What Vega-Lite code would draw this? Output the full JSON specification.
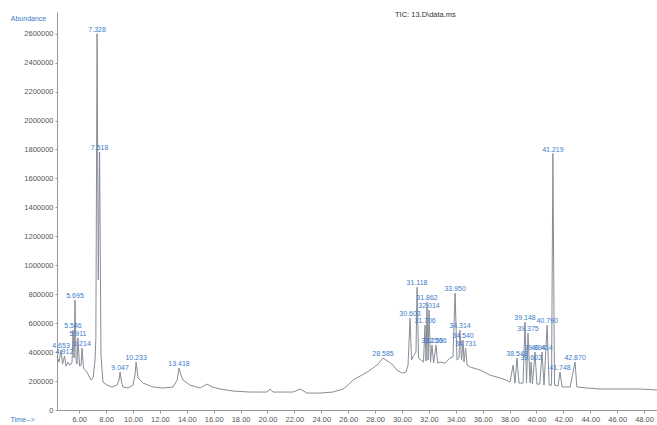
{
  "$schema": "https://vega.github.io/schema/vega-lite/v6.json",
  "width": 600,
  "height": 398,
  "autosize": {"type": "none"},
  "padding": {"left": 57, "top": 12, "right": 0, "bottom": 15},
  "background": "white",
  "config": {"view": {"stroke": null}, "font": "Liberation Sans", "axis": {"labelOverlap": false}},
  "title": {"text": "TIC: 13.D\\data.ms", "anchor": "start", "dx": 338, "offset": -6, "fontSize": 7.5, "fontWeight": "normal", "color": "#333333", "frame": "group"},
  "datasets": {
    "trace": [
      {"t": 4.35, "v": 372000}, {"t": 4.50, "v": 331000}, {"t": 4.65, "v": 414000}, {"t": 4.76, "v": 317000},
      {"t": 4.91, "v": 372000}, {"t": 5.02, "v": 303000}, {"t": 5.17, "v": 331000}, {"t": 5.32, "v": 310000},
      {"t": 5.47, "v": 331000}, {"t": 5.54, "v": 552000}, {"t": 5.62, "v": 359000}, {"t": 5.69, "v": 759000},
      {"t": 5.77, "v": 345000}, {"t": 5.84, "v": 317000}, {"t": 5.91, "v": 497000}, {"t": 6.03, "v": 303000},
      {"t": 6.14, "v": 310000}, {"t": 6.21, "v": 428000}, {"t": 6.32, "v": 290000}, {"t": 6.58, "v": 262000},
      {"t": 6.88, "v": 207000}, {"t": 7.03, "v": 221000}, {"t": 7.18, "v": 345000}, {"t": 7.24, "v": 500000},
      {"t": 7.328, "v": 2600000}, {"t": 7.42, "v": 900000}, {"t": 7.518, "v": 1780000}, {"t": 7.62, "v": 380000},
      {"t": 7.70, "v": 276000}, {"t": 7.77, "v": 193000}, {"t": 8.07, "v": 172000}, {"t": 8.44, "v": 159000},
      {"t": 8.81, "v": 172000}, {"t": 8.96, "v": 207000}, {"t": 9.04, "v": 262000}, {"t": 9.15, "v": 193000},
      {"t": 9.26, "v": 159000}, {"t": 9.63, "v": 152000}, {"t": 10.00, "v": 172000}, {"t": 10.15, "v": 241000},
      {"t": 10.23, "v": 331000}, {"t": 10.38, "v": 221000}, {"t": 10.75, "v": 186000}, {"t": 11.49, "v": 159000},
      {"t": 12.24, "v": 152000}, {"t": 12.98, "v": 159000}, {"t": 13.28, "v": 207000}, {"t": 13.42, "v": 290000},
      {"t": 13.57, "v": 241000}, {"t": 13.72, "v": 207000}, {"t": 14.24, "v": 172000}, {"t": 14.99, "v": 152000},
      {"t": 15.51, "v": 179000}, {"t": 15.88, "v": 159000}, {"t": 16.47, "v": 145000}, {"t": 17.44, "v": 131000},
      {"t": 18.70, "v": 124000}, {"t": 19.97, "v": 124000}, {"t": 20.19, "v": 145000}, {"t": 20.41, "v": 124000},
      {"t": 21.90, "v": 124000}, {"t": 22.42, "v": 145000}, {"t": 22.94, "v": 117000}, {"t": 23.91, "v": 117000},
      {"t": 24.87, "v": 124000}, {"t": 25.62, "v": 145000}, {"t": 25.99, "v": 172000}, {"t": 26.36, "v": 207000},
      {"t": 26.88, "v": 234000}, {"t": 27.40, "v": 262000}, {"t": 27.85, "v": 290000}, {"t": 28.22, "v": 317000},
      {"t": 28.59, "v": 359000}, {"t": 28.81, "v": 345000}, {"t": 29.04, "v": 331000}, {"t": 29.26, "v": 317000},
      {"t": 29.63, "v": 276000}, {"t": 30.00, "v": 255000}, {"t": 30.30, "v": 262000}, {"t": 30.45, "v": 310000},
      {"t": 30.60, "v": 634000}, {"t": 30.71, "v": 345000}, {"t": 30.89, "v": 379000}, {"t": 31.04, "v": 400000},
      {"t": 31.12, "v": 848000}, {"t": 31.23, "v": 359000}, {"t": 31.42, "v": 345000}, {"t": 31.60, "v": 331000},
      {"t": 31.71, "v": 586000}, {"t": 31.79, "v": 338000}, {"t": 31.86, "v": 745000}, {"t": 31.94, "v": 345000},
      {"t": 32.01, "v": 690000}, {"t": 32.12, "v": 331000}, {"t": 32.23, "v": 448000}, {"t": 32.35, "v": 324000},
      {"t": 32.53, "v": 448000}, {"t": 32.65, "v": 324000}, {"t": 32.83, "v": 331000}, {"t": 33.20, "v": 324000},
      {"t": 33.57, "v": 359000}, {"t": 33.79, "v": 366000}, {"t": 33.95, "v": 807000}, {"t": 34.09, "v": 345000},
      {"t": 34.24, "v": 359000}, {"t": 34.31, "v": 552000}, {"t": 34.43, "v": 345000}, {"t": 34.54, "v": 483000},
      {"t": 34.61, "v": 331000}, {"t": 34.73, "v": 428000}, {"t": 34.84, "v": 310000}, {"t": 35.07, "v": 297000},
      {"t": 35.81, "v": 276000}, {"t": 36.55, "v": 241000}, {"t": 37.29, "v": 221000}, {"t": 37.74, "v": 207000},
      {"t": 38.03, "v": 193000}, {"t": 38.26, "v": 310000}, {"t": 38.40, "v": 186000}, {"t": 38.55, "v": 359000},
      {"t": 38.70, "v": 186000}, {"t": 39.00, "v": 186000}, {"t": 39.15, "v": 607000}, {"t": 39.26, "v": 186000},
      {"t": 39.37, "v": 531000}, {"t": 39.52, "v": 186000}, {"t": 39.60, "v": 331000}, {"t": 39.70, "v": 179000},
      {"t": 39.89, "v": 400000}, {"t": 40.03, "v": 179000}, {"t": 40.25, "v": 179000}, {"t": 40.41, "v": 400000},
      {"t": 40.56, "v": 172000}, {"t": 40.79, "v": 586000}, {"t": 40.94, "v": 172000}, {"t": 41.12, "v": 172000},
      {"t": 41.219, "v": 1772000}, {"t": 41.34, "v": 172000}, {"t": 41.60, "v": 166000}, {"t": 41.75, "v": 262000},
      {"t": 41.90, "v": 159000}, {"t": 42.50, "v": 159000}, {"t": 42.87, "v": 331000}, {"t": 43.00, "v": 159000},
      {"t": 43.76, "v": 152000}, {"t": 44.73, "v": 145000}, {"t": 46.21, "v": 145000}, {"t": 47.70, "v": 145000},
      {"t": 48.96, "v": 138000}
    ],
    "peaks": [
      {"t": 4.65, "v": 414000, "label": "4.653"},
      {"t": 4.91, "v": 372000, "label": "4.912"},
      {"t": 5.54, "v": 552000, "label": "5.546"},
      {"t": 5.69, "v": 759000, "label": "5.695"},
      {"t": 5.91, "v": 497000, "label": "5.911"},
      {"t": 6.21, "v": 428000, "label": "6.214"},
      {"t": 7.328, "v": 2600000, "label": "7.328"},
      {"t": 7.518, "v": 1780000, "label": "7.518"},
      {"t": 9.04, "v": 262000, "label": "9.047"},
      {"t": 10.23, "v": 331000, "label": "10.233"},
      {"t": 13.42, "v": 290000, "label": "13.418"},
      {"t": 28.59, "v": 359000, "label": "28.585"},
      {"t": 30.60, "v": 634000, "label": "30.603"},
      {"t": 31.12, "v": 848000, "label": "31.118"},
      {"t": 31.71, "v": 586000, "label": "31.706"},
      {"t": 31.86, "v": 745000, "label": "31.862"},
      {"t": 32.01, "v": 690000, "label": "32.014"},
      {"t": 32.23, "v": 448000, "label": "32.226"},
      {"t": 32.53, "v": 448000, "label": "32.536"},
      {"t": 33.95, "v": 807000, "label": "33.950"},
      {"t": 34.31, "v": 552000, "label": "34.314"},
      {"t": 34.54, "v": 483000, "label": "34.540"},
      {"t": 34.73, "v": 428000, "label": "34.731"},
      {"t": 38.55, "v": 359000, "label": "38.548"},
      {"t": 39.15, "v": 607000, "label": "39.148"},
      {"t": 39.37, "v": 531000, "label": "39.375"},
      {"t": 39.60, "v": 331000, "label": "39.602"},
      {"t": 39.89, "v": 400000, "label": "39.894"},
      {"t": 40.41, "v": 400000, "label": "40.414"},
      {"t": 40.79, "v": 586000, "label": "40.790"},
      {"t": 41.219, "v": 1772000, "label": "41.219"},
      {"t": 41.75, "v": 262000, "label": "41.748"},
      {"t": 42.87, "v": 331000, "label": "42.870"}
    ]
  },
  "encoding": {
    "x": {
      "field": "t", "type": "quantitative",
      "scale": {"domain": [4.35, 48.96], "nice": false, "zero": false},
      "axis": {
        "values": [6, 8, 10, 12, 14, 16, 18, 20, 22, 24, 26, 28, 30, 32, 34, 36, 38, 40, 42, 44, 46, 48],
        "format": ".2f", "labelFontSize": 7.5, "labelColor": "#555555", "tickSize": 3,
        "labelOverlap": false, "labelBound": false, "labelFlush": false,
        "tickColor": "#999999", "domainColor": "#999999", "grid": false, "labelPadding": 2,
        "title": "Time-->", "titleColor": "#3d7cc9", "titleFontSize": 7, "titleFontWeight": "normal",
        "titleX": -35, "titleY": 9, "titleAlign": "center", "titleBaseline": "middle"
      }
    },
    "y": {
      "field": "v", "type": "quantitative",
      "scale": {"domain": [0, 2750000], "nice": false},
      "axis": {
        "values": [0, 200000, 400000, 600000, 800000, 1000000, 1200000, 1400000, 1600000, 1800000, 2000000, 2200000, 2400000, 2600000],
        "format": "d", "labelFontSize": 7.5, "labelColor": "#555555", "tickSize": 2,
        "labelOverlap": false, "labelBound": false, "labelFlush": false,
        "tickColor": "#999999", "domainColor": "#999999", "grid": false, "labelPadding": 2,
        "title": "Abundance", "titleColor": "#3d7cc9", "titleFontSize": 7, "titleFontWeight": "normal",
        "titleAngle": 0, "titleX": -29, "titleY": 6, "titleAlign": "center", "titleBaseline": "middle"
      }
    }
  },
  "layer": [
    {
      "data": {"name": "trace"},
      "mark": {"type": "line", "color": "#878d97", "strokeWidth": 1}
    },
    {
      "data": {"name": "peaks"},
      "mark": {"type": "text", "color": "#3d7cc9", "fontSize": 7, "baseline": "bottom", "dy": -1},
      "encoding": {
        "text": {"field": "label"}
      }
    }
  ]
}
